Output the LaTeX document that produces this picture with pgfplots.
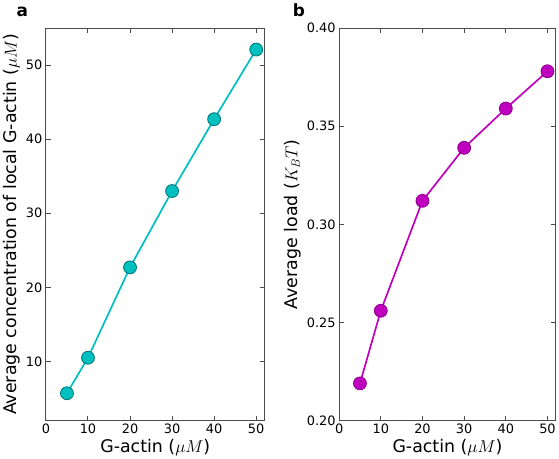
\documentclass[border=0pt]{standalone}
\usepackage{pgfplots}
\pgfplotsset{compat=1.18}
\usepackage{fontspec}
\setmainfont{DejaVu Sans}
\definecolor{mc}{rgb}{0,0.75,0.75}
\definecolor{mcd}{rgb}{0,0.45,0.45}
\definecolor{mm}{rgb}{0.75,0,0.75}
\definecolor{mmd}{rgb}{0.55,0,0.55}
\definecolor{axgray}{rgb}{0.3,0.3,0.3}
\begin{document}
\begin{tikzpicture}
\pgfplotsset{
  panel/.style={
    scale only axis, width=220pt, height=395pt,
    xmin=0, xmax=52, xtick={0,10,...,50},
    tick align=inside, tickwidth=5pt,
    xtick pos=both, ytick pos=both,
    axis line style={draw=axgray, line width=1pt},
    xtick style={draw=axgray, line width=1pt},
    ytick style={draw=axgray, line width=1pt},
    tick label style={font=\fontsize{13}{15}\selectfont},
    label style={font=\fontsize{17.5}{20}\selectfont},
    /pgf/number format/assume math mode=true,
    xlabel={G-actin ($\mu M$)},
    xlabel style={yshift=2pt},
    clip=false,
  }
}
\begin{axis}[panel, name=pa,
  ymin=2, ymax=55, ytick={10,20,...,50},
  ylabel={Average concentration of local G-actin ($\mu M$)},
  ylabel style={yshift=-1pt}]
\addplot[mc, line width=1.7pt, mark=*, mark size=6.5pt,
  mark options={fill=mc, draw=mcd, line width=0.8pt}]
  coordinates {(5,5.7) (10,10.5) (20,22.7) (30,33.0) (40,42.7) (50,52.1)};
\end{axis}
\node[anchor=base west, font=\bfseries\fontsize{17}{20}\selectfont] at ([xshift=-33pt, yshift=12pt]pa.north west) {a};
\begin{axis}[panel, name=pb, at={(295pt,0pt)}, width=218pt,
  ymin=0.2, ymax=0.4, ytick={0.20,0.25,...,0.40},
  yticklabel style={/pgf/number format/.cd, fixed, fixed zerofill, precision=2},
  ylabel={Average load ($K_BT$)},
  ylabel style={yshift=-1pt}]
\addplot[mm, line width=1.7pt, mark=*, mark size=6.5pt,
  mark options={fill=mm, draw=mmd, line width=0.8pt}]
  coordinates {(5,0.219) (10,0.256) (20,0.312) (30,0.339) (40,0.359) (50,0.378)};
\end{axis}
\node[anchor=base west, font=\bfseries\fontsize{17}{20}\selectfont] at ([xshift=-50pt, yshift=12pt]pb.north west) {b};
\end{tikzpicture}
\end{document}
